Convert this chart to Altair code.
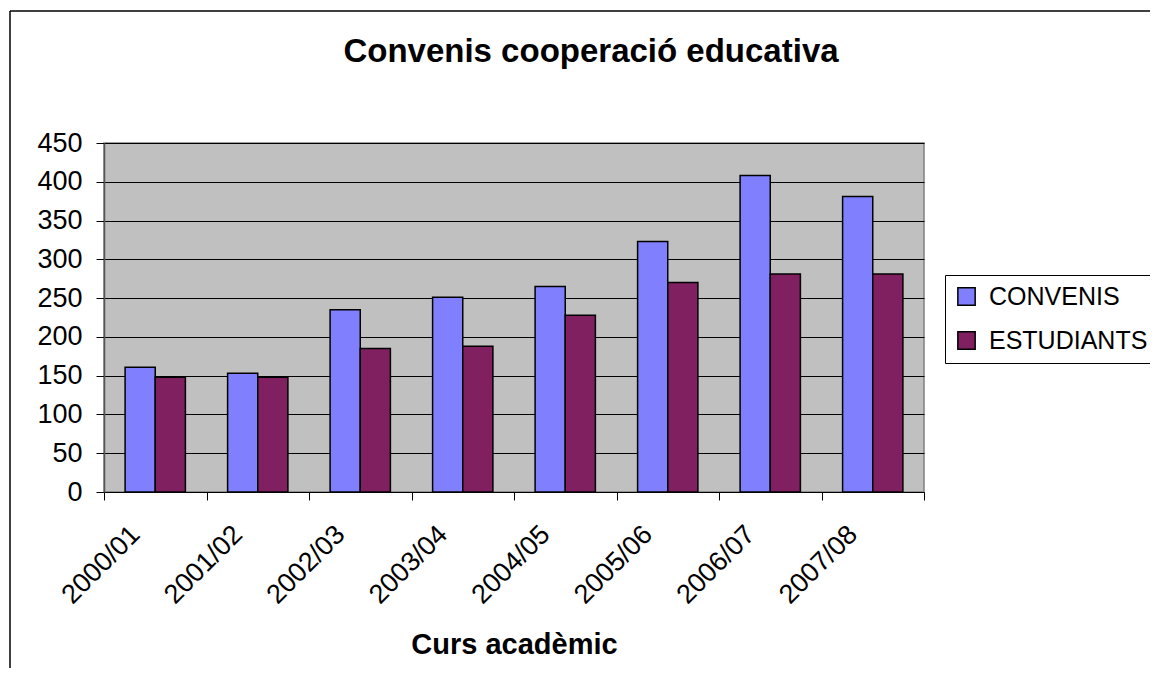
import altair as alt
import pandas as pd

cursos = ["2000/01", "2001/02", "2002/03", "2003/04", "2004/05", "2005/06", "2006/07", "2007/08"]
convenis = [161, 153, 235, 251, 265, 323, 408, 381]
estudiants = [148, 148, 185, 188, 228, 270, 281, 281]
series = ["CONVENIS", "ESTUDIANTS"]
colors = ["#8080FF", "#802060"]
y_ticks = [0, 50, 100, 150, 200, 250, 300, 350, 400, 450]

rows = []
for c, a, b in zip(cursos, convenis, estudiants):
    rows.append({"curs": c, "serie": series[0], "valor": a})
    rows.append({"curs": c, "serie": series[1], "valor": b})
df = pd.DataFrame(rows)

FONT = "Liberation Sans"

bars = alt.Chart(df).mark_bar(stroke="black", strokeWidth=1.5).encode(
    x=alt.X("curs:N", sort=cursos,
            scale=alt.Scale(paddingInner=0, paddingOuter=0),
            axis=alt.Axis(title="Curs acadèmic", labelAngle=-45, labelAlign="right",
                          labelBaseline="middle", labelFontSize=27, labelFont=FONT,
                          labelColor="black", labelPadding=30, labelOffset=-20,
                          tickBand="extent", tickSize=8, tickColor="black", tickWidth=1,
                          domainColor="black", domainWidth=1, grid=False,
                          titleFont=FONT, titleFontSize=29, titleFontWeight="bold",
                          titleColor="black", titleBaseline="alphabetic", titleY=161)),
    xOffset=alt.XOffset("serie:N", sort=series,
                        scale=alt.Scale(paddingInner=0, paddingOuter=0.7)),
    y=alt.Y("valor:Q", scale=alt.Scale(domain=[0, 450], nice=False),
            axis=alt.Axis(title=None, values=y_ticks, labelFontSize=27, labelFont=FONT,
                          labelColor="black", labelPadding=14, tickSize=8,
                          tickColor="black", domainColor="#555555", domainWidth=1.5,
                          gridColor="black", gridWidth=1, gridOpacity=1)),
    color=alt.Color("serie:N", sort=series,
                    scale=alt.Scale(domain=series, range=colors),
                    legend=alt.Legend(title=None, orient="none", legendX=841, legendY=132,
                                      direction="vertical", fillColor="white",
                                      strokeColor="black", padding=9,
                                      labelFontSize=25, labelFont=FONT, labelColor="black",
                                      labelOffset=10, labelLimit=400,
                                      symbolType="square", symbolSize=300,
                                      symbolStrokeColor="black", symbolStrokeWidth=1.5,
                                      rowPadding=18)),
)

frame_data = alt.Data(values=[{"k": 1}])
frame_left = alt.Chart(frame_data).mark_rule(color="black", strokeWidth=1.5).encode(
    x=alt.value(-94), y=alt.value(-132), y2=alt.value(600))
frame_top = alt.Chart(frame_data).mark_rule(color="black", strokeWidth=1.5).encode(
    x=alt.value(-94), x2=alt.value(1200), y=alt.value(-132))

chart = alt.layer(bars, frame_left, frame_top).properties(
    width=820, height=349,
    title=alt.TitleParams("Convenis cooperació educativa", font=FONT, fontSize=33,
                          fontWeight="bold", color="black", anchor="middle", dx=77,
                          baseline="alphabetic", offset=0, dy=85),
    autosize=alt.AutoSizeParams(type="none"),
    padding={"left": 96, "top": 135, "right": 226, "bottom": 176},
    background="white",
).configure_view(fill="#C0C0C0", stroke="#808080", strokeWidth=1.5)

chart.save("out.html", embed_options={"renderer": "svg", "actions": False})
